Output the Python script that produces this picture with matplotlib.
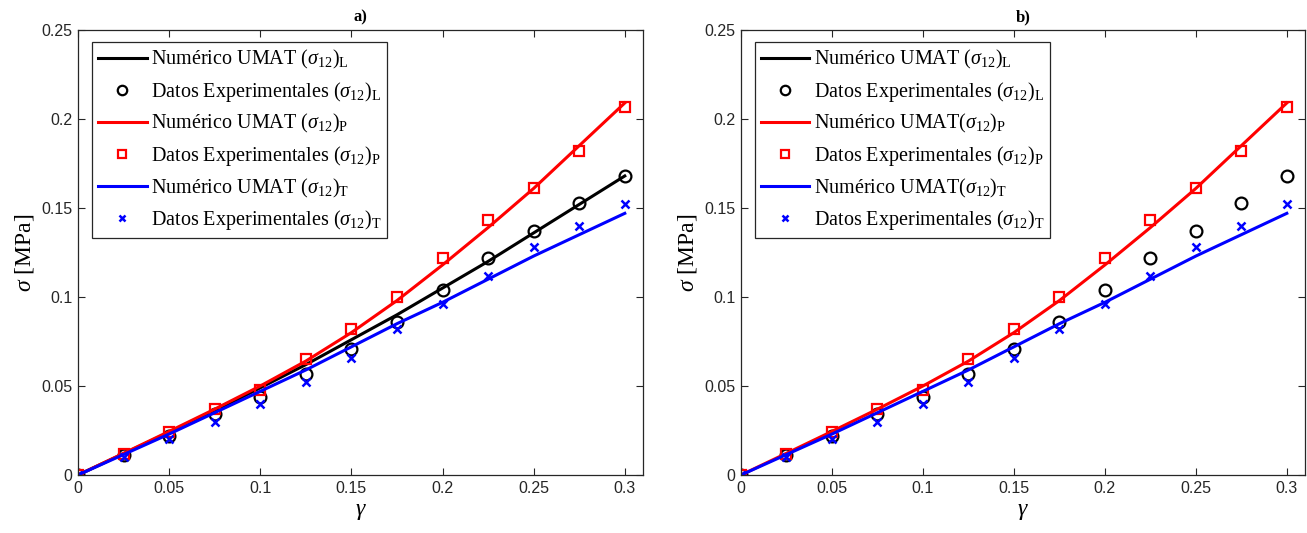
import matplotlib.pyplot as plt

plt.rcParams['mathtext.fontset'] = 'custom'
plt.rcParams['mathtext.rm'] = 'Liberation Serif'
plt.rcParams['mathtext.it'] = 'Liberation Serif:italic'
plt.rcParams['mathtext.bf'] = 'Liberation Serif:bold'

# deformacion angular
gamma = [0, 0.025, 0.05, 0.075, 0.1, 0.125, 0.15, 0.175, 0.2, 0.225, 0.25, 0.275, 0.3]

# curvas numericas UMAT
num_L = [0, 0.012, 0.024, 0.036, 0.049, 0.062, 0.076, 0.090, 0.105, 0.120, 0.136, 0.152, 0.168]
num_P = [0, 0.0122, 0.0245, 0.037, 0.050, 0.064, 0.080, 0.098, 0.118, 0.139, 0.161, 0.185, 0.209]
num_T = [0, 0.0115, 0.023, 0.035, 0.047, 0.059, 0.072, 0.085, 0.097, 0.110, 0.123, 0.135, 0.147]

# datos experimentales
exp_L = [0, 0.011, 0.022, 0.034, 0.044, 0.057, 0.071, 0.086, 0.104, 0.122, 0.137, 0.153, 0.168]
exp_P = [0, 0.0118, 0.024, 0.037, 0.048, 0.065, 0.082, 0.0998, 0.122, 0.143, 0.161, 0.182, 0.207]
exp_T = [0, 0.010, 0.020, 0.030, 0.040, 0.052, 0.066, 0.082, 0.096, 0.112, 0.128, 0.140, 0.152]

xticks = [0, 0.05, 0.1, 0.15, 0.2, 0.25, 0.3]
yticks = [0, 0.05, 0.1, 0.15, 0.2, 0.25]
tick_lbl_x = ['0', '0.05', '0.1', '0.15', '0.2', '0.25', '0.3']
tick_lbl_y = ['0', '0.05', '0.1', '0.15', '0.2', '0.25']

gray = '#262626'

fig = plt.figure(figsize=(13.07, 5.33), dpi=100)
ax1 = fig.add_axes([78/1307, 1-475/533, (643-78)/1307, (475-30)/533])
ax2 = fig.add_axes([741/1307, 1-475/533, (1305-741)/1307, (475-30)/533])


def draw_panel(ax, title, nospace, show_L_line):
    sp = '' if nospace else ' '
    lab = [r'Numérico UMAT ($\sigma_{12}$)$_\mathrm{L}$',
           r'Datos Experimentales ($\sigma_{12}$)$_\mathrm{L}$',
           r'Numérico UMAT' + sp + r'($\sigma_{12}$)$_\mathrm{P}$',
           r'Datos Experimentales ($\sigma_{12}$)$_\mathrm{P}$',
           r'Numérico UMAT' + sp + r'($\sigma_{12}$)$_\mathrm{T}$',
           r'Datos Experimentales ($\sigma_{12}$)$_\mathrm{T}$']
    if show_L_line:
        ax.plot(gamma, num_L, color='k', lw=2.2, label=lab[0])
    else:
        ax.plot([], [], color='k', lw=2.2, label=lab[0])
    ax.plot(gamma, exp_L, 'o', mfc='none', mec='k', mew=1.6, ms=8.5, label=lab[1])
    ax.plot(gamma, num_P, color='r', lw=2.2, label=lab[2])
    ax.plot(gamma, exp_P, 's', mfc='none', mec='r', mew=1.6, ms=7.5, label=lab[3])
    ax.plot(gamma, num_T, color='b', lw=2.2, label=lab[4])
    ax.plot(gamma, exp_T, 'x', color='b', mew=1.8, ms=5.5, label=lab[5])

    ax.set_xlim(0, 0.31)
    ax.set_ylim(0, 0.25)
    ax.set_xticks(xticks)
    ax.set_xticklabels(tick_lbl_x, family='Liberation Sans', fontsize=11.5, color=gray)
    ax.set_yticks(yticks)
    ax.set_yticklabels(tick_lbl_y, family='Liberation Sans', fontsize=11.5, color=gray)
    ax.tick_params(direction='in', top=True, right=True, length=5, width=0.8, color=gray, pad=4)
    for s in ax.spines.values():
        s.set_color(gray)
        s.set_linewidth(0.9)

    ax.set_xlabel(r'$\gamma$', fontsize=17, labelpad=2)
    ax.set_ylabel(r'$\sigma$ [MPa]', fontsize=17, family='Liberation Serif', labelpad=4)
    ax.set_title(title, family='Liberation Serif', fontweight='bold', fontsize=12, pad=6)

    leg = ax.legend(loc='upper left', bbox_to_anchor=(0.025, 0.973),
                    prop={'family': 'Liberation Serif', 'size': 14.5},
                    frameon=True, fancybox=False, framealpha=1, edgecolor=gray,
                    handlelength=2.4, handletextpad=0.2, borderpad=0.3,
                    labelspacing=0.43, borderaxespad=0, markerscale=0.8)
    leg.get_frame().set_linewidth(0.9)


draw_panel(ax1, 'a)', False, True)
draw_panel(ax2, 'b)', True, False)

fig.savefig('out.png', dpi=100)
